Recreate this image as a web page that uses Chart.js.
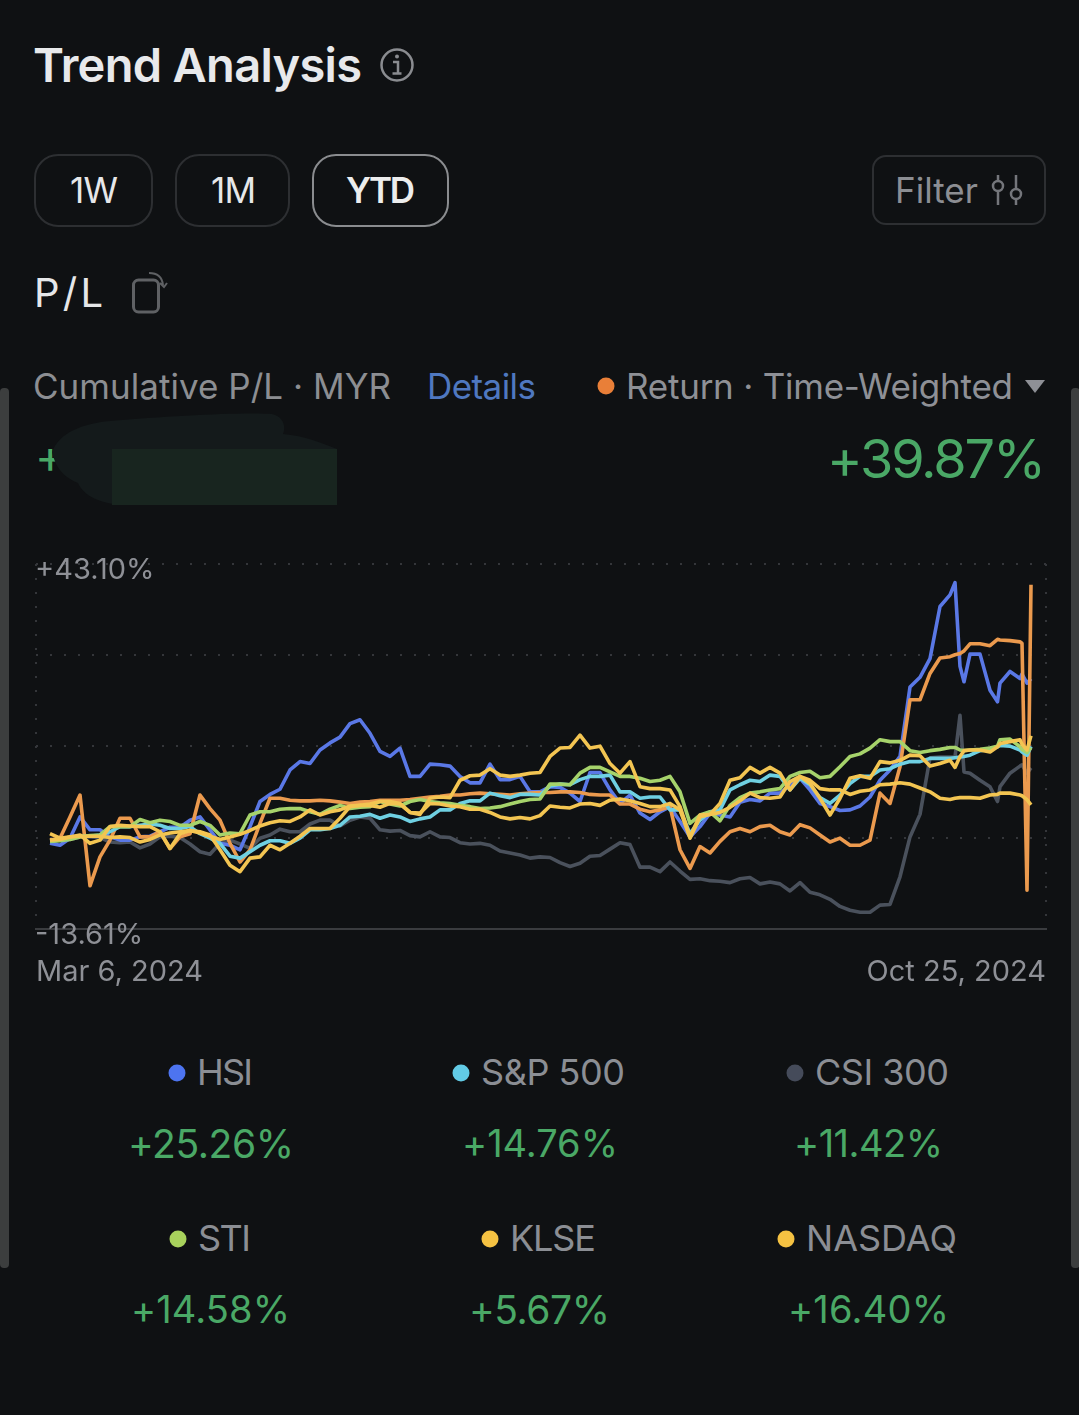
<!DOCTYPE html>
<html><head><meta charset="utf-8">
<script src="https://cdn.jsdelivr.net/npm/chart.js@4"></script>
<style>
html,body{margin:0;padding:0;background:#0f1113;width:1079px;height:1415px;overflow:hidden}
body{position:relative;font-family:"Inter",sans-serif}
.t{position:absolute;white-space:nowrap;transform:translateY(-50%);line-height:1.2}
.box{position:absolute;box-sizing:border-box;border:2px solid #2d2f32}
.dot{position:absolute;border-radius:50%;transform:translate(-50%,-50%)}
svg{position:absolute;overflow:visible}
canvas{position:absolute;left:0;top:540px}
.bar{position:absolute;background:#3c3e3e;width:9px;top:388px;height:880px;border-radius:4px}
</style></head><body>
<div class="bar" style="left:0"></div><div class="bar" style="left:1071px"></div>

<div class="t" data-w="329" style="left:33px;top:65px;font-size:47px;font-weight:600;color:#e8e9eb">Trend Analysis</div>
<svg style="left:0;top:0" width="1079" height="540">
 <circle cx="397" cy="65" r="15.5" fill="none" stroke="#8a8c90" stroke-width="2.5"/>
 <circle cx="397" cy="56.500" r="2" fill="#8a8c90"/>
 <path d="M393 62h5v11M392.500 73.500h9" fill="none" stroke="#8a8c90" stroke-width="2.500"/>
 <rect x="133.500" y="280" width="25" height="32" rx="5" fill="none" stroke="#5f6164" stroke-width="3"/>
 <path d="M149 273c8 0 13 3 14 12M160 283l4 4 3-4" fill="none" stroke="#5f6164" stroke-width="2"/>
 <path d="M998 175v30M1016 175v30" stroke="#74767b" stroke-width="2.500"/>
 <circle cx="998" cy="186" r="5" fill="#0f1113" stroke="#74767b" stroke-width="2.500"/>
 <circle cx="1016" cy="194" r="5" fill="#0f1113" stroke="#74767b" stroke-width="2.500"/>
 <path d="M1025 380h20l-10 13z" fill="#8e9096"/>
</svg>

<div class="box" style="left:34px;top:154px;width:119px;height:73px;border-radius:24px"></div>
<div class="box" style="left:175px;top:154px;width:115px;height:73px;border-radius:24px"></div>
<div class="box" style="left:312px;top:154px;width:137px;height:73px;border-radius:24px;border-color:#8a8c8f"></div>
<div class="box" style="left:872px;top:155px;width:174px;height:70px;border-radius:14px"></div>
<div class="t" data-w="48" style="left:70px;top:190px;font-size:35px;color:#e6e7e9">1W</div>
<div class="t" data-w="45" style="left:211px;top:190px;font-size:35px;color:#e6e7e9">1M</div>
<div class="t" data-w="69" style="left:346px;top:190px;font-size:35px;font-weight:600;color:#eceded">YTD</div>
<div class="t" data-w="83" style="left:895px;top:190px;font-size:35px;color:#8c8e93">Filter</div>
<div class="t" data-w="69" style="left:34px;top:293px;font-size:40px;color:#e6e7e9">P/L</div>
<div class="t" data-w="358" style="left:33px;top:386px;font-size:35px;color:#8c8e92">Cumulative P/L · MYR</div>
<div class="t" data-w="109" style="left:427px;top:386px;font-size:35px;color:#4f78c0">Details</div>
<div class="dot" style="left:606px;top:386px;width:17px;height:17px;background:#e97f38"></div>
<div class="t" data-w="387" style="left:626px;top:386px;font-size:35px;color:#8e9096">Return · Time-Weighted</div>
<div class="t" data-w="219" style="left:827px;top:459px;font-size:54px;color:#4aa866">+39.87%</div>
<div class="t" style="left:35px;top:457px;font-size:46px;color:#4aa866">+</div>
<svg style="left:0;top:0" width="1079" height="540">
 <path d="M52 452C60 432 82 424 110 421C170 416 240 412 272 414C284 417 286 427 283 434C305 436 322 443 337 449V505H125C100 504 84 496 78 483C66 478 56 470 52 452Z" fill="#141a1b"/>
 <rect x="112" y="449" width="225" height="56" fill="#18251f"/>
</svg>

<canvas id="c" width="1079" height="460"></canvas>

<div class="dot" style="left:177px;top:1073px;width:17px;height:17px;background:#4d74f0"></div>
<div class="t" data-w="56" style="left:197px;top:1073px;font-size:36px;color:#8b8e94">HSI</div>
<div class="t" data-w="166" style="left:128px;top:1144px;font-size:39px;color:#4aa866">+25.26%</div>
<div class="dot" style="left:461px;top:1073px;width:17px;height:17px;background:#62cbe6"></div>
<div class="t" data-w="144" style="left:481px;top:1073px;font-size:36px;color:#8b8e94">S&amp;P 500</div>
<div class="t" data-w="156" style="left:462px;top:1144px;font-size:38px;color:#4aa866">+14.76%</div>
<div class="dot" style="left:795px;top:1073px;width:17px;height:17px;background:#454b5a"></div>
<div class="t" data-w="134" style="left:815px;top:1073px;font-size:36px;color:#8b8e94">CSI 300</div>
<div class="t" data-w="149" style="left:794px;top:1144px;font-size:38px;color:#4aa866">+11.42%</div>
<div class="dot" style="left:178px;top:1239px;width:17px;height:17px;background:#a8d25c"></div>
<div class="t" data-w="53" style="left:198px;top:1239px;font-size:36px;color:#8b8e94">STI</div>
<div class="t" data-w="159" style="left:131px;top:1310px;font-size:38px;color:#4aa866">+14.58%</div>
<div class="dot" style="left:490px;top:1239px;width:17px;height:17px;background:#f5c242"></div>
<div class="t" data-w="86" style="left:510px;top:1239px;font-size:36px;color:#8b8e94">KLSE</div>
<div class="t" data-w="141" style="left:469px;top:1310px;font-size:39px;color:#4aa866">+5.67%</div>
<div class="dot" style="left:786px;top:1239px;width:17px;height:17px;background:#f5c242"></div>
<div class="t" data-w="151" style="left:806px;top:1239px;font-size:36px;color:#8b8e94">NASDAQ</div>
<div class="t" data-w="161" style="left:788px;top:1310px;font-size:38px;color:#4aa866">+16.40%</div>

<script>
const xLabels = ['Mar 6, 2024','Oct 25, 2024'];
const yTickValues = [43.10, 28.92, 14.75, 0.57, -13.61];
const yTickLabels = ['+43.10%','','','','-13.61%'];

const samplePos = [0,1,2,3,4,5,6,7,8,9,10,11,12,13,14,15,16,17,18,19,20,21,22,23,24,25,26,27,28,29,
 30,31,32,33,34,35,36,37,38,39,40,41,42,43,44,45,46,47,48,49,50,51,52,53,54,55,56,57,58,59,
 60,61,62,63,64,65,66,67,68,69,70,71,72,73,74,75,76,77,78,79,80,81,82,83,84,85,86,87,88,89,
 90,90.5,91,91.4,92,93,94,94.75,95,96,97,97.2,97.7,98.1];

const returnTW = [0.2,0.5,3.8,7.2,-6.9,-2.4,0.2,3.6,3.6,0.7,
 0.7,1.5,-1.1,0.7,1.2,7.2,5.1,3.3,-0.3,-3.2,
 -1.3,2.8,6.7,6.7,6.4,6.3,6.3,6.4,6.3,6.1,
 5.9,6.1,6.2,6.4,6.4,6.4,6.5,6.7,6.9,7.0,
 7.2,7.2,7.4,7.5,7.4,7.3,7.2,7.4,7.5,7.6,
 7.6,7.7,7.7,7.6,7.3,7.2,7.2,5.8,5.8,5.0,
 4.6,4.9,5.4,-1.3,-4.2,-0.8,-1.8,0,1.5,2.0,
 1.5,2.3,2.5,1.5,1.0,2.6,2.1,1.0,-0.1,0.5,
 -0.6,-0.6,0.2,7.5,5.9,11.6,22.0,22.0,26.1,28.5,
 28.7,29.0,29.2,29.6,30.7,30.7,30.4,31.4,31.3,31.2,31.0,30.8,-7.6,39.87];

const hsi = [-0.3,-0.6,0.5,3.8,1.8,1.8,0.7,0.2,0.2,0.7,
 0.8,1.5,2.2,2.2,3.3,3.8,1.8,-0.3,-0.6,-1.3,
 2.3,6.2,7.3,8.1,11.1,12.4,12.1,14.2,15.3,16.2,
 18.3,18.9,16.8,14.0,13.2,14.5,10.1,10.1,12.0,11.9,
 11.7,10.1,9.1,9.1,12.0,9.6,9.6,10.1,7.7,7.7,
 8.5,8.4,7.5,6.2,10.7,10.7,8.0,5.9,7.2,4.4,
 3.4,4.6,5.4,3.1,0.7,2.3,4.4,4.1,3.8,6.1,
 6.5,6.3,7.5,7.5,8.8,9.8,8.0,5.9,5.4,4.8,
 4.9,5.5,6.9,9.5,11.1,13.2,24.0,25.5,28.4,36.5,
 38.3,40.2,27.2,24.8,29.1,29.1,23.5,21.7,24.6,26.4,25.3,26.0,24.6,25.26];

const sp500 = [0.1,0.2,0.5,0.8,0.8,1.0,1.5,2.3,2.3,2.5,
 2.7,2.5,2.0,2.0,2.3,1.2,0.5,-0.3,-2.3,-2.6,
 -1.6,-0.6,0.1,0.1,-0.3,0.5,1.8,1.8,2.0,2.5,
 3.8,3.9,4.2,3.6,4.1,3.8,3.1,3.5,3.8,4.9,
 4.9,5.9,6.3,6.3,7.5,7.1,6.8,7.3,7.3,7.2,
 8.6,8.9,8.8,9.6,10.1,10.1,10.3,7.7,7.7,6.7,
 6.9,6.9,4.9,4.9,1.2,3.3,4.6,4.9,8.0,8.8,
 9.5,9.3,10.3,10.1,8.0,9.8,8.8,6.8,5.9,7.2,
 9.0,10.1,10.1,11.1,11.3,12.0,12.4,12.4,12.9,12.9,
 12.9,13.0,13.1,13.2,13.4,14.1,14.3,14.7,14.9,14.8,14.2,13.9,13.4,14.76];

const csi300 = [0.2,0.2,0.3,0.7,0.7,0.6,-0.1,-0.2,-0.1,-1.0,
 -0.4,0.7,0.8,0.6,-0.4,-1.6,-2.0,-0.3,0.2,-0.4,
 -1.1,0.5,1.0,1.9,1.5,1.5,2.7,3.3,3.3,2.4,
 3.3,3.8,3.6,1.8,1.6,1.7,0.9,0.7,1.5,0.7,
 0.6,-0.2,-0.4,-0.3,-0.6,-1.5,-1.8,-2.1,-2.6,-2.4,
 -2.5,-3.3,-3.9,-3.4,-2.3,-2.2,-1.2,-0.2,-0.5,-4.0,
 -4.0,-4.7,-3.2,-4.6,-5.9,-5.8,-6.1,-6.2,-6.4,-5.8,
 -5.6,-6.6,-6.3,-6.6,-7.7,-6.4,-7.9,-8.3,-9.0,-10.1,
 -10.7,-11.0,-11.0,-9.9,-9.8,-5.5,0.7,4.2,13.0,13.1,
 13.1,13.1,19.6,10.8,10.6,9.5,8.5,6.2,8.5,10.6,11.7,11.9,10.6,11.42];

const sti = [0,0.1,0.3,0.7,0.9,1.0,2.3,2.3,2.3,3.4,
 2.9,3.3,3.1,2.5,2.5,3.1,2.5,1.0,1.3,1.2,
 4.1,4.6,4.6,5.0,5.1,5.1,4.6,4.2,5.0,5.6,
 5.1,5.3,5.4,6.2,5.8,5.5,6.2,6.5,6.2,6.0,
 5.9,5.6,5.4,5.1,5.2,5.4,5.8,6.2,6.5,6.6,
 8.9,8.9,8.8,10.6,11.5,11.5,10.8,10.1,10.1,9.8,
 9.3,9.5,10.1,7.7,2.8,4.1,4.6,3.2,5.6,6.8,
 7.5,7.7,8.0,8.2,10.1,10.7,10.9,9.9,10.1,11.6,
 13.2,13.6,14.5,15.8,15.5,15.5,14.1,13.8,14.1,14.3,
 14.6,14.6,14.2,14.1,14.2,14.3,14.5,14.8,15.8,15.9,14.7,14.3,13.8,14.58];

const klse = [0.2,0.3,0.7,0.8,0.8,0.8,0.6,0.7,0.6,-0.1,
 0.3,1.0,1.3,1.5,1.7,1.3,0.8,0.3,0.7,1.1,
 1.7,2.4,2.9,3.2,3.1,3.8,4.9,4.1,4.6,4.9,
 5.5,5.6,5.8,6.2,6.2,5.9,4.5,4.4,5.9,5.8,
 5.5,5.4,5.0,5.0,4.5,3.8,3.5,3.7,3.5,4.0,
 5.5,5.3,5.2,5.8,5.9,5.6,6.4,6.6,6.3,5.9,
 5.4,5.4,5.9,4.9,0.5,3.8,4.2,4.5,5.3,6.3,
 7.5,6.8,6.7,6.9,9.3,10.1,9.5,8.2,8.0,8.0,
 7.3,7.8,8.0,8.8,8.9,9.1,8.9,8.3,7.7,6.7,
 6.5,6.7,6.8,6.8,6.8,6.7,7.2,7.3,7.5,7.5,7.2,7.1,6.5,5.67];

const nasdaq = [1.2,0.5,0.7,1.0,-0.3,0.2,2.3,2.5,2.4,2.3,
 2.3,1.5,-1.1,1.2,1.7,1.5,1.0,-1.3,-3.7,-4.7,
 -2.6,-2.4,-0.6,-1.3,-0.3,0.8,2.0,2.0,2.0,3.6,
 5.4,5.6,5.6,5.3,5.9,5.8,4.5,4.2,6.7,6.9,
 6.8,9.5,10.2,10.3,11.3,10.3,10.1,10.3,10.6,10.7,
 13.2,14.5,14.6,16.5,14.5,14.8,12.1,10.6,12.4,8.5,
 8.2,8.2,8.0,5.4,0.7,4.1,4.2,5.9,9.5,9.9,
 11.5,10.6,11.5,10.6,8.0,10.1,9.0,6.7,4.1,6.7,
 9.8,10.2,9.8,12.4,12.2,12.6,13.4,13.3,11.7,12.1,
 12.6,11.5,13.2,14.1,14.2,14.2,13.9,14.7,15.2,15.5,15.8,15.1,14.2,16.40];

const seriesList = [
 {label:'NASDAQ',   values:nasdaq,   color:'#f3c552', order:1},
 {label:'KLSE',     values:klse,     color:'#f3c552', order:2},
 {label:'STI',      values:sti,      color:'#a6d36b', order:3},
 {label:'S&P 500',  values:sp500,    color:'#6fd0e2', order:4},
 {label:'Return',   values:returnTW, color:'#eb9a4e', order:5},
 {label:'HSI',      values:hsi,      color:'#5a78e6', order:6},
 {label:'CSI 300',  values:csi300,   color:'#4a515c', order:7}
];

const FONT = 'Inter, sans-serif';
function fitText(){
  document.querySelectorAll('.t[data-w]').forEach(el=>{
    const target=+el.dataset.w, n=el.textContent.length;
    el.style.letterSpacing='0px';
    const w=el.getBoundingClientRect().width;
    el.style.letterSpacing=((target-w)/Math.max(1,n-1)).toFixed(3)+'px';
  });
}
fitText();

new Chart(document.getElementById('c'),{
  type:'line',
  data:{datasets:seriesList.map(s=>({
    label:s.label,
    order:s.order,
    data:s.values.map((v,i)=>({x:samplePos[i],y:v})),
    borderColor:s.color,
    borderWidth:3.6,
    pointRadius:0,
    tension:0,
    borderJoinStyle:'round',
    fill:false
  }))},
  options:{
    responsive:false,animation:false,
    devicePixelRatio:1,
    layout:{padding:{left:36,right:33,top:24,bottom:0}},
    plugins:{legend:{display:false},tooltip:{enabled:false},title:{display:false}},
    scales:{
      x:{type:'linear',min:-1.4,max:99.6,
        afterBuildTicks(a){a.ticks=[{value:a.min},{value:a.max}];},
        afterFit(a){a.height=71;},
        grid:{drawTicks:false,color:'#34363a',lineWidth:2},
        border:{display:true,color:'#3a3c3f',width:2,dash:[2,12]},
        ticks:{autoSkip:false,maxRotation:0,align:'inner',padding:26,color:'#8e9096',
          font:{family:FONT,size:29},
          callback(v,i){return xLabels[i];}}
      },
      y:{type:'linear',min:-13.61,max:43.10,
        afterBuildTicks(a){a.ticks=yTickValues.map(v=>({value:v}));},
        afterFit(a){a.width=0;},
        grid:{drawTicks:false,color:'#34363a',lineWidth:2},
        border:{display:false,dash:[2,12]},
        ticks:{mirror:true,padding:-1,labelOffset:6,autoSkip:false,color:'#8e9096',
          font:{family:FONT,size:29},
          callback(v,i){return yTickLabels[i];}}
      }
    }
  }
});
</script>
</body></html>
